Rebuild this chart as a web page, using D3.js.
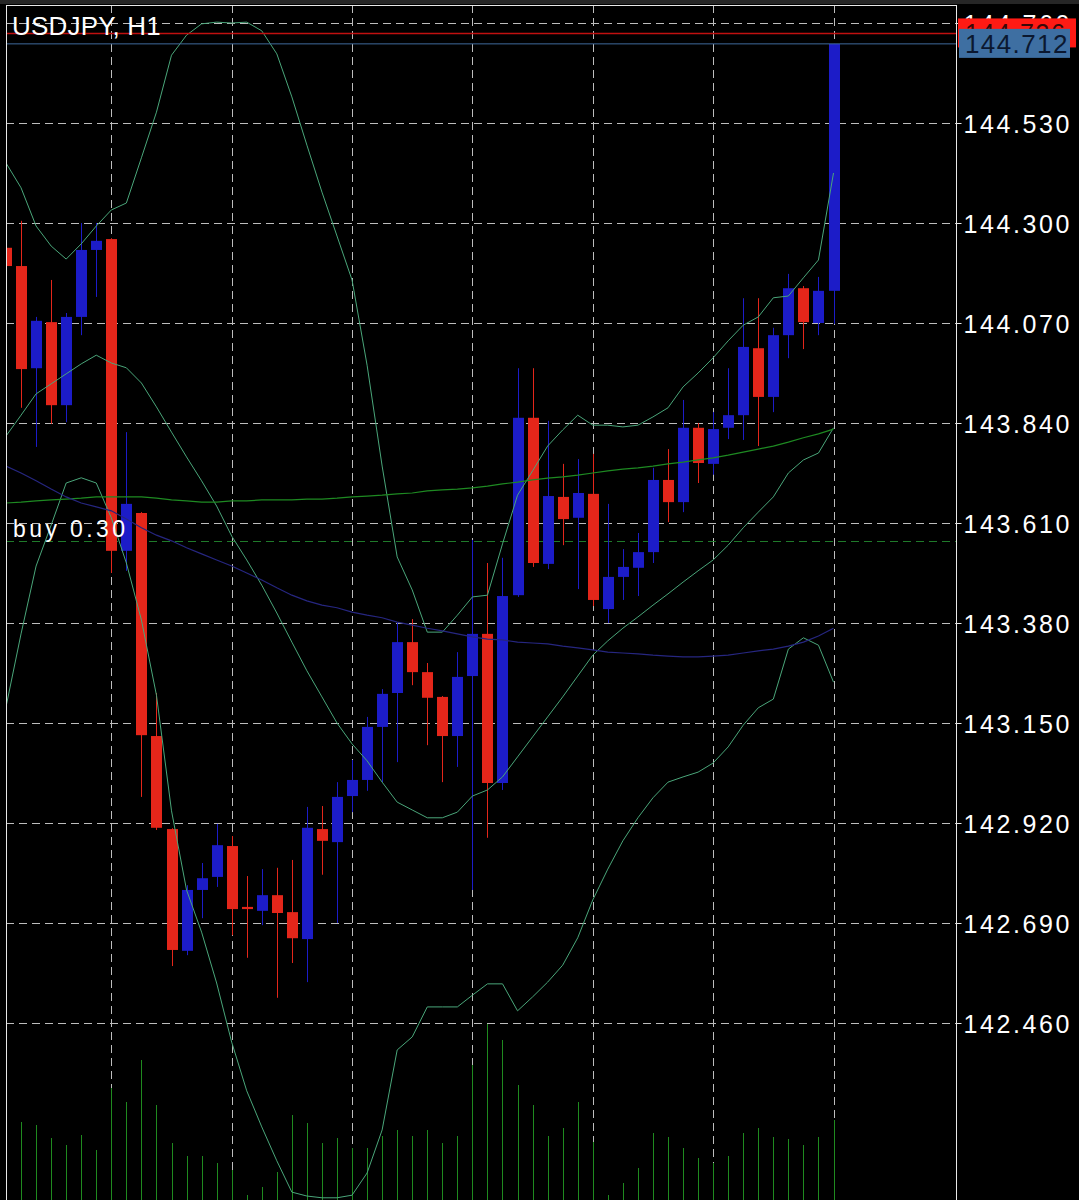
<!DOCTYPE html>
<html><head><meta charset="utf-8">
<script src="https://cdn.jsdelivr.net/npm/d3@7/dist/d3.min.js"></script>
<style>html,body{margin:0;padding:0;background:#000;} svg{display:block}</style>
</head><body>
<svg id="c" width="1079" height="1200"></svg>
<script>
// ---------- data ----------
const symbolLabel = "USDJPY, H1";
const priceTicks = [144.760, 144.530, 144.300, 144.070, 143.840, 143.610, 143.380, 143.150, 142.920, 142.690, 142.460];
const timeGridIdx = [7, 15, 23, 31, 39, 47, 55];

const opens  = [144.243,144.201,143.966,144.072,143.881,144.084,144.238,144.263,143.546,143.633,
                143.120,142.906,142.626,142.766,142.796,142.867,142.727,142.718,142.754,142.715,
                142.653,142.906,142.876,142.982,143.019,143.141,143.219,143.336,143.267,143.210,
                143.120,143.258,143.355,143.012,143.444,143.852,143.516,143.670,143.622,143.677,
                143.412,143.486,143.507,143.543,143.709,143.658,143.829,143.746,143.829,143.858,
                144.012,143.900,144.042,144.150,144.070,144.144];
const highs  = [144.250,144.305,144.084,144.169,144.093,144.300,144.300,144.265,143.819,143.635,
                143.219,142.908,142.777,142.828,142.918,142.890,142.798,142.814,142.817,142.835,
                142.957,142.959,143.014,143.065,143.164,143.228,143.382,143.389,143.288,143.212,
                143.313,143.571,143.518,143.530,143.966,143.966,143.845,143.746,143.757,143.769,
                143.654,143.550,143.587,143.737,143.780,143.893,143.840,143.865,143.966,144.127,
                144.127,144.059,144.183,144.155,144.176,144.712];
const lows   = [144.195,143.875,143.785,143.838,143.842,144.042,144.130,143.495,143.500,142.980,
                142.904,142.591,142.616,142.701,142.773,142.662,142.610,142.685,142.518,142.598,
                142.554,142.801,142.690,142.945,142.994,143.014,143.060,143.237,143.099,143.014,
                143.049,142.766,142.886,142.996,143.440,143.509,143.504,143.559,143.458,143.419,
                143.380,143.433,143.442,143.518,143.612,143.635,143.702,143.721,143.803,143.801,
                143.787,143.865,143.989,144.010,144.042,144.068];
const closes = [144.201,143.964,144.075,143.881,144.084,144.238,144.259,143.546,143.654,143.122,
                142.909,142.628,142.766,142.793,142.869,142.722,142.722,142.754,142.713,142.655,
                142.909,142.879,142.980,143.019,143.141,143.217,143.336,143.267,143.208,143.120,
                143.256,143.355,143.012,143.442,143.852,143.518,143.672,143.619,143.679,143.433,
                143.486,143.509,143.543,143.709,143.658,143.829,143.748,143.826,143.858,144.015,
                143.900,144.042,144.150,144.072,144.144,144.712];
const tickVolumes = [700,780,750,620,550,650,500,1120,980,1400,
                     950,570,440,440,370,300,50,130,280,850,
                     770,570,620,520,520,640,700,640,700,570,
                     640,1350,1760,1600,1150,950,640,720,980,580,
                     50,170,320,670,630,520,420,370,440,670,
                     720,630,610,550,630,800];

const bbUpper  = [144.438,144.381,144.293,144.247,144.217,144.252,144.293,144.330,144.346,144.450,
                  144.555,144.686,144.732,144.758,144.762,144.760,144.762,144.742,144.689,144.590,
                  144.479,144.371,144.270,144.169,143.973,143.741,143.532,143.456,143.359,143.359,
                  143.398,143.440,143.444,143.562,143.674,143.730,143.787,143.824,143.858,143.835,
                  143.835,143.831,143.835,143.854,143.875,143.923,143.955,143.990,144.029,144.065,
                  144.084,144.128,144.132,144.174,144.215,144.415];
const bbMiddle = [143.810,143.858,143.907,143.930,143.953,143.976,143.996,143.978,143.967,143.932,
                  143.877,143.819,143.762,143.707,143.649,143.580,143.525,143.467,143.403,143.336,
                  143.270,143.210,143.150,143.102,143.063,143.014,142.968,142.950,142.932,142.932,
                  142.945,142.982,142.996,143.026,143.072,143.118,143.164,143.210,143.258,143.306,
                  143.339,143.368,143.394,143.421,143.447,143.474,143.500,143.525,143.559,143.599,
                  143.635,143.670,143.725,143.755,143.771,143.829];
const bbLower  = [143.187,143.355,143.511,143.605,143.702,143.714,143.702,143.622,143.518,143.387,
                  143.214,142.948,142.766,142.669,142.552,142.416,142.304,142.221,142.143,142.071,
                  142.062,142.058,142.058,142.064,142.115,142.214,142.398,142.428,142.497,142.497,
                  142.497,142.524,142.550,142.550,142.488,142.520,142.554,142.593,142.656,142.743,
                  142.814,142.879,142.932,142.978,143.014,143.026,143.037,143.058,143.095,143.145,
                  143.185,143.205,143.320,143.346,143.329,143.244];
const maGreen  = [143.656,143.658,143.661,143.663,143.665,143.667,143.670,143.670,143.670,143.670,
                  143.667,143.663,143.661,143.658,143.658,143.661,143.661,143.663,143.663,143.663,
                  143.665,143.665,143.667,143.670,143.672,143.674,143.677,143.679,143.684,143.686,
                  143.688,143.691,143.695,143.700,143.704,143.709,143.713,143.716,143.720,143.725,
                  143.730,143.734,143.737,143.741,143.746,143.750,143.755,143.760,143.766,143.773,
                  143.780,143.787,143.796,143.806,143.815,143.826];
const maNavy   = [143.741,143.725,143.707,143.688,143.670,143.656,143.647,143.638,143.619,143.599,
                  143.582,143.569,143.553,143.539,143.525,143.511,143.495,143.479,143.461,143.444,
                  143.431,143.421,143.415,143.405,143.398,143.392,143.382,143.375,143.368,143.362,
                  143.355,143.348,143.343,143.341,143.336,143.334,143.332,143.327,143.323,143.318,
                  143.313,143.311,143.309,143.306,143.304,143.302,143.302,143.304,143.306,143.311,
                  143.316,143.320,143.327,143.336,143.350,143.368];

const bidPrice = 144.712;
const askPrice = 144.736;
const buyPrice = 143.569;
const buyLabel = "buy 0.30";

// ---------- layout ----------
const W = 1079, H = 1200;
const L = 6, R = 956, T = 5, B = 1200;
const svg = d3.select("#c");
svg.append("rect").attr("width", W).attr("height", H).attr("fill", "#000");
svg.append("rect").attr("x", 0).attr("y", 0).attr("width", W).attr("height", 4).attr("fill", "#262626");

const x = d3.scaleLinear().domain([0, opens.length - 1]).range([6, 833.5]);
const y = d3.scaleLinear().domain([142.460, 144.530]).range([1023, 123]);
const yv = d3.scaleLinear().domain([0, 2000]).range([1200, 1000]);

svg.append("defs").append("clipPath").attr("id", "plot")
  .append("rect").attr("x", L).attr("y", T).attr("width", R - L).attr("height", B - T);

const plot = svg.append("g").attr("clip-path", "url(#plot)");

// grid
const gridColor = "#bdbdbd";
plot.append("g").selectAll("line").data(priceTicks).join("line")
  .attr("x1", L).attr("x2", R)
  .attr("y1", d => Math.round(y(d)) + 0.5).attr("y2", d => Math.round(y(d)) + 0.5)
  .attr("stroke", gridColor).attr("stroke-width", 1).attr("stroke-dasharray", "8,5");
plot.append("g").selectAll("line").data(timeGridIdx).join("line")
  .attr("x1", d => Math.round(x(d)) + 0.5).attr("x2", d => Math.round(x(d)) + 0.5)
  .attr("y1", T).attr("y2", B)
  .attr("stroke", gridColor).attr("stroke-width", 1).attr("stroke-dasharray", "8,5");

// volumes
plot.append("g").selectAll("line").data(tickVolumes).join("line")
  .attr("x1", (d, i) => Math.round(x(i)) + 0.5).attr("x2", (d, i) => Math.round(x(i)) + 0.5)
  .attr("y1", yv(0)).attr("y2", d => yv(d))
  .attr("stroke", "#1f8a1f").attr("stroke-width", 1);

// buy order line
plot.append("line").attr("x1", L).attr("x2", R)
  .attr("y1", Math.round(y(buyPrice)) + 0.5).attr("y2", Math.round(y(buyPrice)) + 0.5)
  .attr("stroke", "#1f7a2a").attr("stroke-width", 1).attr("stroke-dasharray", "8,5");

// candles
const idx = d3.range(opens.length);
const up = i => closes[i] >= opens[i];
const colUp = "#1c1cc8", colDn = "#e4261a";
const cg = plot.append("g");
cg.selectAll("line").data(idx).join("line")
  .attr("x1", i => Math.round(x(i)) + 0.5).attr("x2", i => Math.round(x(i)) + 0.5)
  .attr("y1", i => y(highs[i])).attr("y2", i => y(lows[i]))
  .attr("stroke", i => up(i) ? colUp : colDn).attr("stroke-width", 1);
cg.selectAll("rect").data(idx).join("rect")
  .attr("x", i => Math.round(x(i)) - 5)
  .attr("width", 11)
  .attr("y", i => y(Math.max(opens[i], closes[i])))
  .attr("height", i => Math.max(1.5, Math.abs(y(opens[i]) - y(closes[i]))))
  .attr("fill", i => up(i) ? colUp : colDn);

// indicator lines
const line = arr => d3.line().x((d, i) => x(i)).y(d => y(d))(arr);
const bbColor = "#4aa67a";
[bbUpper, bbMiddle, bbLower].forEach(a => {
  plot.append("path").attr("d", line(a)).attr("fill", "none")
    .attr("stroke", bbColor).attr("stroke-width", 1);
});
plot.append("path").attr("d", line(maGreen)).attr("fill", "none")
  .attr("stroke", "#1e8a22").attr("stroke-width", 1.2);
plot.append("path").attr("d", line(maNavy)).attr("fill", "none")
  .attr("stroke", "#262680").attr("stroke-width", 1.2);

// bid / ask lines
plot.append("line").attr("x1", L).attr("x2", R)
  .attr("y1", y(askPrice)).attr("y2", y(askPrice))
  .attr("stroke", "#c01010").attr("stroke-width", 1.6);
plot.append("line").attr("x1", L).attr("x2", R)
  .attr("y1", y(bidPrice)).attr("y2", y(bidPrice))
  .attr("stroke", "#3f6a9c").attr("stroke-width", 1);

// frame
svg.append("line").attr("x1", L).attr("x2", R).attr("y1", T + 0.5).attr("y2", T + 0.5).attr("stroke", "#e8e8e8");
svg.append("line").attr("x1", L + 0.5).attr("x2", L + 0.5).attr("y1", T).attr("y2", B).attr("stroke", "#e8e8e8");
svg.append("line").attr("x1", R + 0.5).attr("x2", R + 0.5).attr("y1", T).attr("y2", B).attr("stroke", "#e8e8e8");

// right price axis
const fontF = "'Liberation Sans', Arial, sans-serif";
const axis = d3.axisRight(y).tickValues(priceTicks).tickSize(5).tickPadding(2)
  .tickFormat(d3.format(".3f"));
const ag = svg.append("g").attr("transform", `translate(${R + 0.5},0)`).call(axis);
ag.select(".domain").remove();
ag.selectAll(".tick line").attr("stroke", "#e8e8e8");
ag.selectAll(".tick text")
  .attr("fill", "#ffffff")
  .attr("font-family", fontF)
  .attr("font-size", 25)
  .attr("letter-spacing", "2.6px")
  .attr("dy", "0.36em");

// ask / bid boxes (drawn over the top axis label, as in the terminal)
svg.append("rect").attr("x", 958).attr("y", y(askPrice) - 15).attr("width", 118).attr("height", 29).attr("fill", "#ff1a14");
svg.append("text").attr("x", 965).attr("y", y(askPrice) + 9).text(askPrice.toFixed(3))
  .attr("fill", "#3a0808").attr("font-family", fontF).attr("font-size", 25).attr("letter-spacing", "1.6px");
svg.append("rect").attr("x", 959).attr("y", y(bidPrice) - 15).attr("width", 111).attr("height", 29).attr("fill", "#3e6fa2");
svg.append("text").attr("x", 965).attr("y", y(bidPrice) + 9).text(bidPrice.toFixed(3))
  .attr("fill", "#0b1830").attr("font-family", fontF).attr("font-size", 26).attr("letter-spacing", "1.4px");

// labels
svg.append("text").attr("x", 12).attr("y", 35).text(symbolLabel)
  .attr("fill", "#ffffff").attr("font-family", fontF).attr("font-size", 26).attr("letter-spacing", "0.2px");
svg.append("text").attr("x", 13).attr("y", 537).text(buyLabel)
  .attr("fill", "#ffffff").attr("font-family", fontF).attr("font-size", 23).attr("letter-spacing", "3.4px");
</script>
</body></html>
